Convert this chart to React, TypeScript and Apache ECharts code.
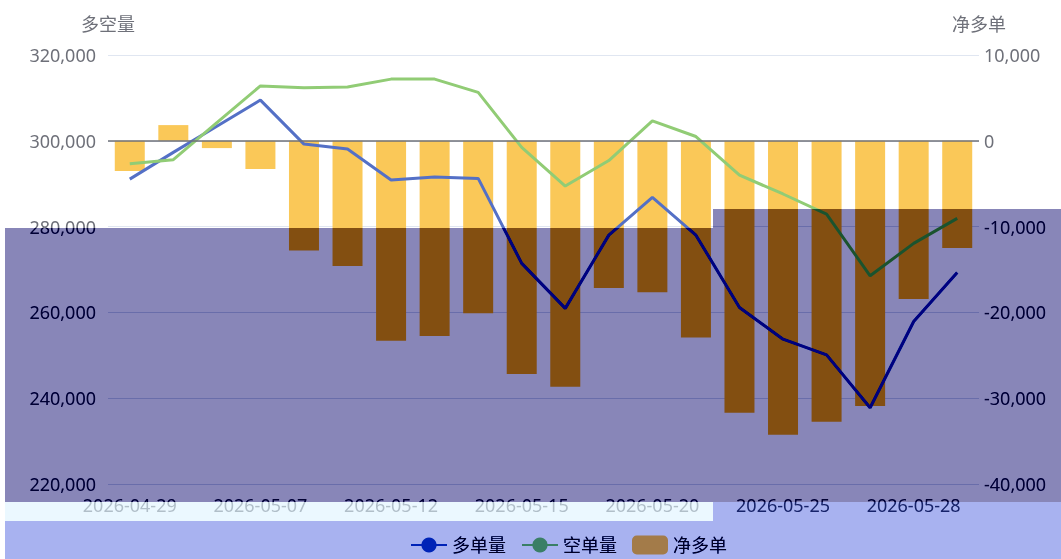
import React, { useEffect, useRef } from 'react';
import * as echarts from 'echarts';

const categories = [
  '2026-04-29', '2026-04-30', '2026-05-06', '2026-05-07', '2026-05-08',
  '2026-05-11', '2026-05-12', '2026-05-13', '2026-05-14', '2026-05-15',
  '2026-05-18', '2026-05-19', '2026-05-20', '2026-05-21', '2026-05-22',
  '2026-05-25', '2026-05-26', '2026-05-27', '2026-05-28', '2026-05-29',
];

// 多单量 (left axis)
const longVolume = [
  291070, 297300, 303400, 309490, 299230, 298070, 290840, 291540, 291230, 271420,
  260940, 278010, 286800, 278000, 261140, 253760, 250100, 237770, 257880, 269300,
];

// 空单量 (left axis)
const shortVolume = [
  294660, 295600, 304250, 312800, 312350, 312520, 314380, 314380, 311280, 298460,
  289460, 295400, 304660, 301000, 292000, 287600, 282910, 268530, 276080, 281910,
];

// 净多单 (right axis)
const netLong = [
  -3530, 1830, -850, -3300, -12800, -14600, -23310, -22750, -20110, -27190,
  -28670, -17170, -17640, -22930, -31700, -34270, -32750, -30920, -18440, -12500,
];

const seriesNames = ['多单量', '空单量', '净多单'];
const axisNames = ['多空量', '净多单'];
const leftRange = { min: 220000, max: 320000, interval: 20000 };
const rightRange = { min: -40000, max: 10000, interval: 10000 };

const W = 1061;
const H = 559;
const FONT = "'Noto Sans', 'Noto Sans CJK SC', sans-serif";

type Box = { x: number; y: number; w: number; h: number };

function SubtractLayer({ box, rgb }: { box: Box; rgb: string }) {
  const base: React.CSSProperties = {
    position: 'absolute',
    left: box.x,
    top: box.y,
    width: box.w,
    height: box.h,
    pointerEvents: 'none',
  };
  return (
    <>
      <div style={{ ...base, background: '#ffffff', mixBlendMode: 'difference' }} />
      <div style={{ ...base, background: rgb, mixBlendMode: 'plus-lighter' as any }} />
      <div style={{ ...base, background: '#ffffff', mixBlendMode: 'difference' }} />
    </>
  );
}

export default function App() {
  const ref = useRef<HTMLDivElement>(null);

  useEffect(() => {
    if (!ref.current) return;
    const chart = echarts.init(ref.current, undefined, { renderer: 'svg' });
    const fmt = (v: number) => v.toLocaleString('en-US');
    chart.setOption({
      animation: false,
      backgroundColor: '#ffffff',
      color: ['#5470c6', '#91cc75', '#fac858'],
      textStyle: { fontFamily: FONT },
      grid: { left: 108, right: 82, top: 55, bottom: 75, outerBoundsMode: 'none' },
      legend: {
        data: seriesNames,
        left: 405,
        top: 530,
        itemWidth: 36,
        itemHeight: 19,
        itemGap: 15,
        textStyle: { fontSize: 18, color: '#333', fontFamily: FONT, lineHeight: 20 },
      },
      xAxis: {
        type: 'category',
        data: categories,
        axisLine: { show: false },
        axisTick: { show: false },
        axisLabel: { interval: 2, fontSize: 18, margin: 12, color: '#6e7079' },
      },
      yAxis: [
        {
          type: 'value',
          name: axisNames[0],
          min: leftRange.min,
          max: leftRange.max,
          interval: leftRange.interval,
          nameGap: 22,
          nameTextStyle: { fontSize: 18, color: '#6e7079' },
          axisLabel: { fontSize: 18, margin: 12, color: '#6e7079', formatter: fmt },
          splitLine: { lineStyle: { color: '#e0e6f1' } },
        },
        {
          type: 'value',
          name: axisNames[1],
          min: rightRange.min,
          max: rightRange.max,
          interval: rightRange.interval,
          nameGap: 22,
          nameTextStyle: { fontSize: 18, color: '#6e7079' },
          axisLabel: { fontSize: 18, margin: 5, color: '#6e7079', formatter: fmt },
          splitLine: { show: false },
        },
      ],
      series: [
        {
          name: seriesNames[2],
          type: 'bar',
          yAxisIndex: 1,
          data: netLong,
          barWidth: 30,
          itemStyle: { color: '#fac858' },
          markLine: {
            silent: true,
            symbol: 'none',
            label: { show: false },
            lineStyle: { color: '#6e7079', width: 1.5, type: 'solid' },
            data: [{ yAxis: 0 }],
          },
          z: 1,
        },
        {
          name: seriesNames[0],
          type: 'line',
          yAxisIndex: 0,
          data: longVolume,
          symbol: 'circle',
          showSymbol: false,
          lineStyle: { width: 3, color: '#5470c6' },
          itemStyle: { color: '#5470c6' },
          z: 3,
        },
        {
          name: seriesNames[1],
          type: 'line',
          yAxisIndex: 0,
          data: shortVolume,
          symbol: 'circle',
          showSymbol: false,
          lineStyle: { width: 3, color: '#91cc75' },
          itemStyle: { color: '#91cc75' },
          z: 3,
        },
      ],
    });
    return () => chart.dispose();
  }, []);

  return (
    <div
      style={{
        position: 'fixed',
        left: 0,
        top: 0,
        width: W,
        height: H,
        background: '#ffffff',
        isolation: 'isolate',
        overflow: 'hidden',
      }}
    >
      <div ref={ref} style={{ position: 'absolute', left: 0, top: 0, width: W, height: H }} />
      <SubtractLayer box={{ x: 5, y: 228, w: 708, h: 274 }} rgb="rgb(119,121,71)" />
      <SubtractLayer box={{ x: 713, y: 209, w: 348, h: 293 }} rgb="rgb(119,121,71)" />
      <div
        style={{
          position: 'absolute',
          left: 5,
          top: 502,
          width: 708,
          height: 19,
          background: 'rgba(222,243,255,0.6)',
          pointerEvents: 'none',
        }}
      />
      <SubtractLayer box={{ x: 713, y: 502, w: 348, h: 19 }} rgb="rgb(87,77,15)" />
      <SubtractLayer box={{ x: 5, y: 521, w: 1056, h: 38 }} rgb="rgb(87,77,15)" />
    </div>
  );
}
